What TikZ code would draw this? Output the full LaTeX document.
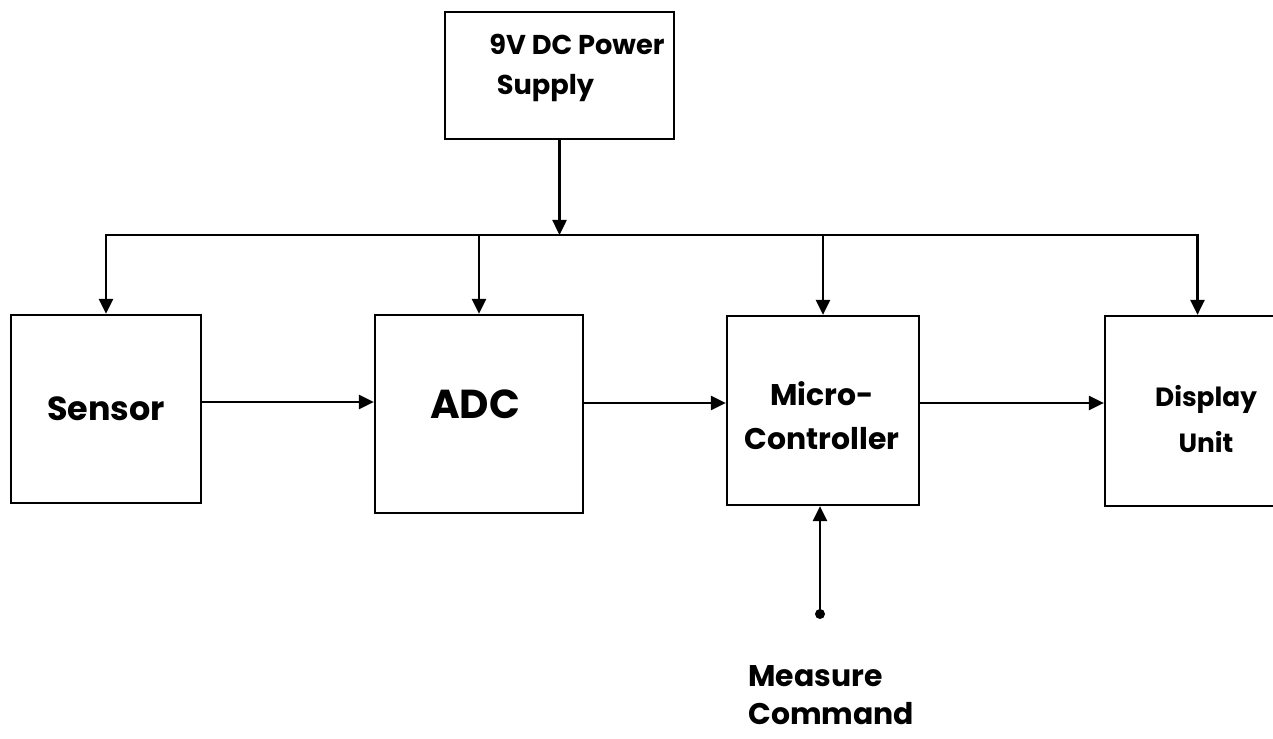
\documentclass[tikz,border=0pt]{standalone}
\usepackage{fontspec}
\setmainfont{Poppins}
\usetikzlibrary{arrows.meta}
\tikzset{
  blk/.style={draw, line width=1.3pt, inner sep=0pt},
  lbl/.style={font=\bfseries, inner sep=0pt},
  conn/.style={line width=1.4pt, -{Triangle[length=0.3cm,width=0.28cm]}},
  wire/.style={line width=1.4pt}
}
\begin{document}
\begin{tikzpicture}[x=0.02cm,y=-0.02cm]
\useasboundingbox (0,0) rectangle (1273,739);
\clip (0,0) rectangle (1273,739);
% blocks
\node[blk, minimum width=4.58cm, minimum height=2.54cm] (psu) at (559.5,75.5) {};
\node[lbl, anchor=west, align=left, font=\bfseries\fontsize{15.5}{22.5}\selectfont] (psutxt) at (489,68) {9V DC Power\\\hspace{0.15cm}Supply};
\node[blk, minimum width=3.8cm, minimum height=3.76cm, font=\bfseries\fontsize{19}{22}\selectfont] (sensor) at (106,409) {Sensor};
\node[blk, minimum width=4.16cm, minimum height=3.96cm] (adc) at (479,414) {};
\node[lbl, font=\bfseries\fontsize{23}{26}\selectfont] (adctxt) at (475,404) {ADC};
\node[blk, minimum width=3.84cm, minimum height=3.78cm] (mc) at (823,410.5) {};
\node[lbl, align=center, font=\bfseries\fontsize{17}{25}\selectfont] (mctxt) at (822,416) {Micro-\\Controller};
\node[blk, minimum width=3.7cm, minimum height=3.8cm] (disp) at (1197.5,411) {};
\node[lbl, align=center, font=\bfseries\fontsize{15}{26}\selectfont] (disptxt) at (1206,419) {Display\\Unit};
% measure command
\coordinate (cmd) at (820,614);
\fill (cmd) circle (5);
\node[lbl, anchor=north west, align=left, font=\bfseries\fontsize{17}{21.6}\selectfont] (cmdtxt) at (748,665) {Measure\\Command};
% power bus
\coordinate (bus) at (psu.south |- 0,235);
\coordinate (busL) at (sensor.north |- bus);
\coordinate (busR) at (disp.north |- bus);
\draw[conn] (psu.south) -- (bus);
\draw[wire, line cap=rect] (busL) -- (busR);
\draw[conn] (busL) -- (sensor.north);
\draw[conn] (adc.north |- bus) -- (adc.north);
\draw[conn] (mc.north |- bus) -- (mc.north);
\draw[conn] (busR) -- (disp.north);
% signal path
\draw[conn] (sensor.east |- 0,402) -- (adc.west |- 0,402);
\draw[conn] (adc.east |- 0,403) -- (mc.west |- 0,403);
\draw[conn] (mc.east |- 0,403) -- (disp.west |- 0,403);
\draw[conn] (cmd) -- (cmd |- mc.south);
\end{tikzpicture}
\end{document}
